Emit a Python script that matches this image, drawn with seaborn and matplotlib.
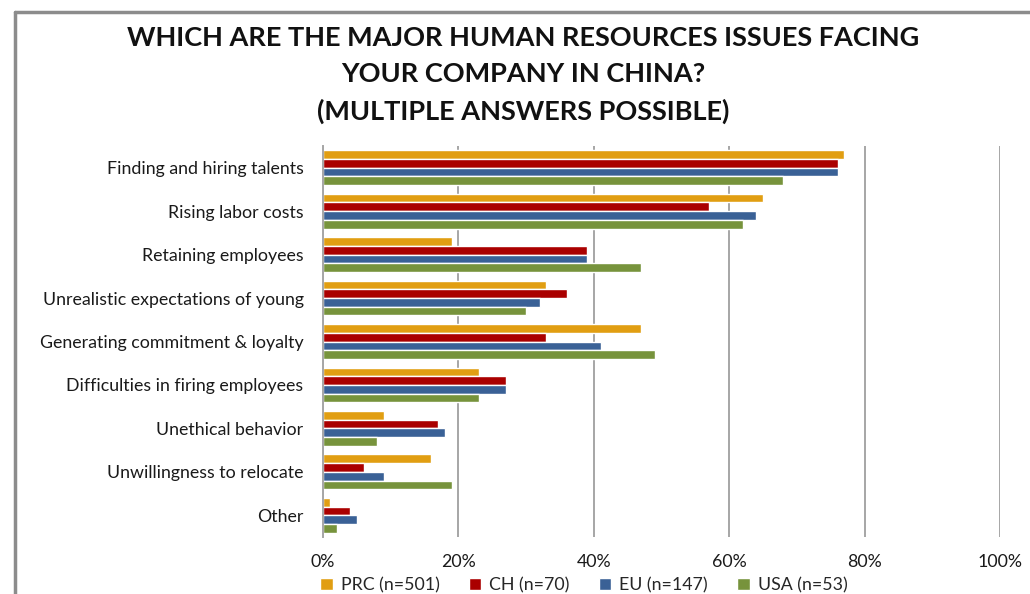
import matplotlib
matplotlib.use("Agg")
import matplotlib.pyplot as plt
from matplotlib.lines import Line2D
from matplotlib.ticker import PercentFormatter
import seaborn as sns
import pandas as pd

categories = [
    "Finding and hiring talents",
    "Rising labor costs",
    "Retaining employees",
    "Unrealistic expectations of young",
    "Generating commitment & loyalty",
    "Difficulties in firing employees",
    "Unethical behavior",
    "Unwillingness to relocate",
    "Other",
]
series = ["PRC (n=501)", "CH (n=70)", "EU (n=147)", "USA (n=53)"]
prc = [77, 65, 19, 33, 47, 23, 9, 16, 1]
ch = [76, 57, 39, 36, 33, 27, 17, 6, 4]
eu = [76, 64, 39, 32, 41, 27, 18, 9, 5]
usa = [68, 62, 47, 30, 49, 23, 8, 19, 2]
colors = ["#E19E12", "#AA0000", "#3A6196", "#77933C"]
xticks = [0, 20, 40, 60, 80, 100]
title = "WHICH ARE THE MAJOR HUMAN RESOURCES ISSUES FACING\nYOUR COMPANY IN CHINA?\n(MULTIPLE ANSWERS POSSIBLE)"

rows = []
for s, vals in zip(series, [prc, ch, eu, usa]):
    for c, v in zip(categories, vals):
        rows.append({"category": c, "series": s, "value": v})
df = pd.DataFrame(rows)

sns.set_theme(style="white")
plt.rcParams["font.family"] = ["Lato", "DejaVu Sans"]

W, H = 1030, 594
fig = plt.figure(figsize=(W / 100, H / 100), dpi=100)
ax = fig.add_axes([323 / W, (H - 537) / H, 677 / W, 391 / H])

sns.barplot(data=df, y="category", x="value", hue="series", order=categories,
            hue_order=series, palette=colors, orient="h", width=0.8,
            saturation=1, ax=ax, legend=True)

ax.set_xlim(0, 100)
ax.set_xticks(xticks)
ax.xaxis.set_major_formatter(PercentFormatter(decimals=0))
ax.grid(axis="x", color="#A6A6A6", linewidth=1.4)
ax.set_axisbelow(True)
for s in ["top", "right"]:
    ax.spines[s].set_visible(False)
ax.spines["bottom"].set_visible(False)
ax.spines["left"].set_color("#A6A6A6")
ax.spines["left"].set_linewidth(1.4)
ax.set_xlabel("")
ax.set_ylabel("")
ax.tick_params(axis="y", length=0, pad=14, labelsize=12.8, colors="#1a1a1a")
ax.tick_params(axis="x", length=0, pad=12, labelsize=12.8, colors="#1a1a1a")

handles, labels = ax.get_legend_handles_labels()
ax.get_legend().remove()
fig.legend(handles, labels, loc="center left", bbox_to_anchor=(313 / W, 9 / H),
           ncol=4, frameon=False, fontsize=12.8, handlelength=0.7, handleheight=0.7,
           columnspacing=1.65, handletextpad=0.45, borderaxespad=0)

fig.text(523 / W, (H - 75) / H, title, ha="center", va="center",
         fontsize=19.5, fontweight="bold", linespacing=1.62, color="#111111")

fig.add_artist(Line2D([15 / W, 15 / W], [0, (H - 12) / H], color="#8C8C8C", linewidth=2.5,
                      transform=fig.transFigure))
fig.add_artist(Line2D([15 / W, 1], [(H - 12) / H, (H - 12) / H], color="#8C8C8C", linewidth=2.5,
                      transform=fig.transFigure))

fig.savefig("out.png", dpi=100)
